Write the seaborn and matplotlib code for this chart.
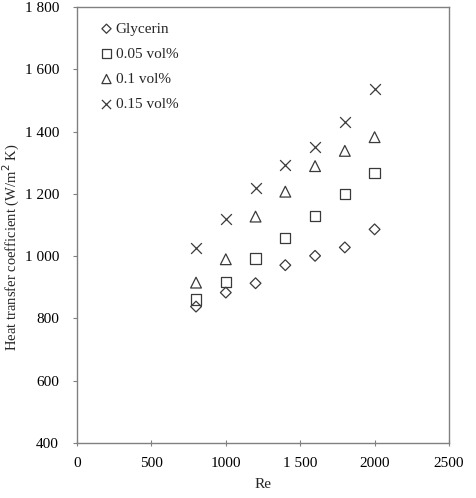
import matplotlib
matplotlib.use("Agg")
import matplotlib.pyplot as plt
import seaborn as sns
import pandas as pd

re_vals = [800, 1000, 1200, 1400, 1600, 1800, 2000]
glycerin = [838, 883, 913, 971, 1001, 1028, 1086]
vol005 = [861, 918, 992, 1059, 1130, 1199, 1268]
vol01 = [915, 990, 1127, 1207, 1289, 1338, 1382]
vol015 = [1027, 1119, 1220, 1294, 1351, 1431, 1537]
series_names = ["Glycerin", "0.05 vol%", "0.1 vol%", "0.15 vol%"]
series_markers = ["D", "s", "^", "x"]
x_ticks = [0, 500, 1000, 1500, 2000, 2500]
x_ticklabels = ["0", "500", "1000", "1 500", "2000", "2500"]
y_ticks = [400, 600, 800, 1000, 1200, 1400, 1600, 1800]
y_ticklabels = ["400", "600", "800", "1 000", "1 200", "1 400", "1 600", "1 800"]

sns.set_style("white")
plt.rcParams['font.family'] = ['Liberation Serif', 'DejaVu Serif']

df = pd.DataFrame({
    "Re": re_vals * 4,
    "h": glycerin + vol005 + vol01 + vol015,
    "series": sum([[n] * len(re_vals) for n in series_names], []),
})

fig = plt.figure(figsize=(4.77, 4.98), dpi=100)
ax = fig.add_axes([0.1614, 0.1104, 0.7799, 0.8756])

col = "#3a3a3a"
sizes = {"D": 30, "s": 55, "^": 60, "x": 60}
for name, mk in zip(series_names, series_markers):
    sub = df[df["series"] == name]
    if mk == "x":
        sns.scatterplot(data=sub, x="Re", y="h", marker=mk, s=sizes[mk], color=col,
                        linewidth=0.9, ax=ax, label=name)
    else:
        sns.scatterplot(data=sub, x="Re", y="h", marker=mk, s=sizes[mk], facecolor="none",
                        edgecolor=col, linewidth=0.9, ax=ax, label=name)

ax.set_xlim(0, 2500)
ax.set_ylim(400, 1800)
ax.set_xticks(x_ticks)
ax.set_xticklabels(x_ticklabels)
ax.set_yticks(y_ticks)
ax.set_yticklabels(y_ticklabels)
ax.tick_params(axis="both", labelsize=11, colors="black")
ax.tick_params(axis="y", direction="out", length=3, color="#808080", left=True, pad=10)
ax.tick_params(axis="x", direction="inout", length=4, color="#808080", bottom=True, pad=8)
for sp in ax.spines.values():
    sp.set_color("#808080")
    sp.set_linewidth(1)
    sp.set_visible(True)

ax.set_xlabel("Re", fontsize=11, labelpad=6)
ax.set_ylabel("Heat transfer coefficient (W/m$^2$ K)", fontsize=10.5)
ax.yaxis.set_label_coords(-0.148, 0.45)

leg = ax.legend(loc="upper left", frameon=False, fontsize=11, handletextpad=0.1,
                labelspacing=0.75, borderaxespad=0.3, handlelength=1.0,
                bbox_to_anchor=(0.03, 0.99), markerscale=0.85)

fig.savefig("out.png", dpi=100)
